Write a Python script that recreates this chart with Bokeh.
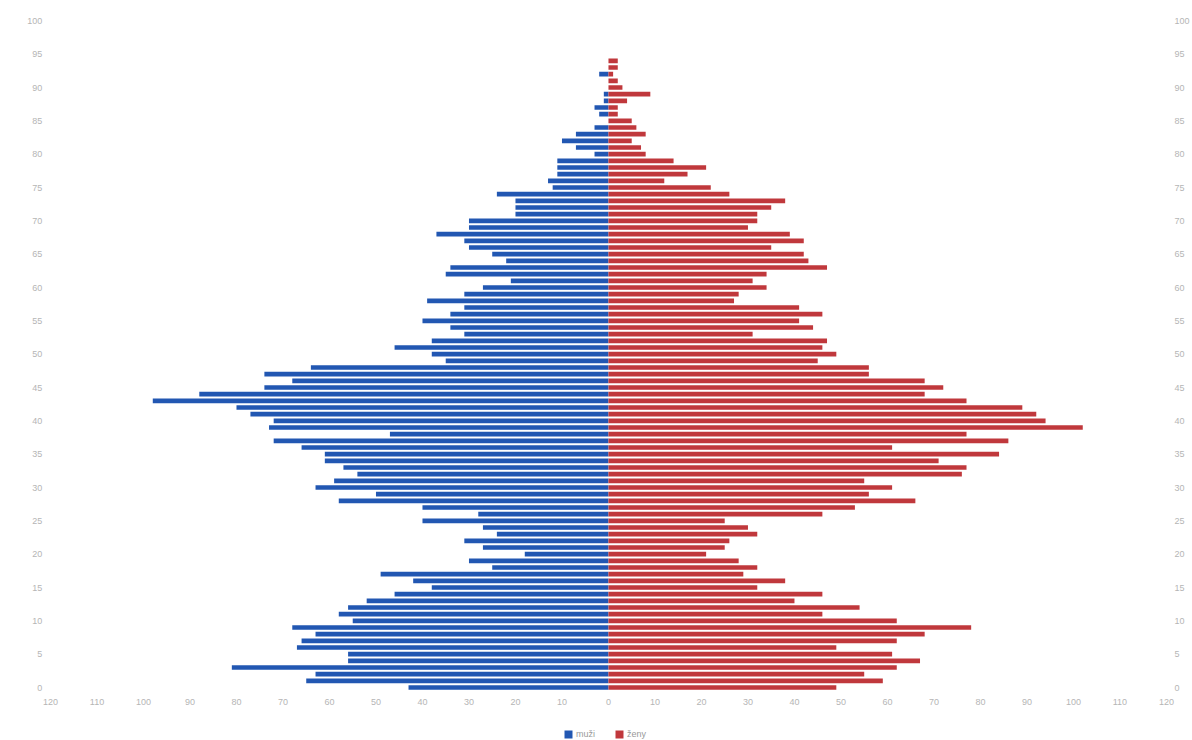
from bokeh.plotting import figure
from bokeh.models import Range1d, FixedTicker, LinearAxis, Legend, LegendItem, ColumnDataSource
from bokeh.embed import file_html
from bokeh.resources import INLINE

# ages 0..94
ages = list(range(0, 95))
muzi = [43, 65, 63, 81, 56, 56, 67, 66, 63, 68,
        55, 58, 56, 52, 46, 38, 42, 49, 25, 30,
        18, 27, 31, 24, 27, 40, 28, 40, 58, 50,
        63, 59, 54, 57, 61, 61, 66, 72, 47, 73,
        72, 77, 80, 98, 88, 74, 68, 74, 64, 35,
        38, 46, 38, 31, 34, 40, 34, 31, 39, 31,
        27, 21, 35, 34, 22, 25, 30, 31, 37, 30,
        30, 20, 20, 20, 24, 12, 13, 11, 11, 11,
        3, 7, 10, 7, 3, 0, 2, 3, 1, 1,
        0, 0, 2, 0, 0]
zeny = [49, 59, 55, 62, 67, 61, 49, 62, 68, 78,
        62, 46, 54, 40, 46, 32, 38, 29, 32, 28,
        21, 25, 26, 32, 30, 25, 46, 53, 66, 56,
        61, 55, 76, 77, 71, 84, 61, 86, 77, 102,
        94, 92, 89, 77, 68, 72, 68, 56, 56, 45,
        49, 46, 47, 31, 44, 41, 46, 41, 27, 28,
        34, 31, 34, 47, 43, 42, 35, 42, 39, 30,
        32, 32, 35, 38, 26, 22, 12, 17, 21, 14,
        8, 7, 5, 8, 6, 5, 2, 2, 4, 9,
        3, 2, 1, 2, 2]

x_ticks = list(range(-120, 121, 10))
x_tick_labels = [str(abs(t)) for t in x_ticks]
age_ticks = list(range(0, 101, 5))
series_names = ["muži", "ženy"]

blue = "#2257b2"
red = "#c0383c"
tick_col = "#b5b5b5"
font = "Liberation Sans"

src = ColumnDataSource(dict(age=ages,
                            m_left=[-v for v in muzi],
                            f_right=zeny,
                            zero=[0] * len(ages)))

p = figure(width=1192, height=740,
           x_range=Range1d(-130.75, 125.6), y_range=Range1d(-7.95, 103.05),
           output_backend="svg", toolbar_location=None,
           x_axis_location=None, y_axis_location=None,
           min_border_left=0, min_border_right=0,
           min_border_top=0, min_border_bottom=0)
p.outline_line_color = None
p.xgrid.visible = False
p.ygrid.visible = False
p.background_fill_color = "white"

rm = p.hbar(y="age", left="m_left", right="zero", height=0.7,
            source=src, fill_color=blue, line_color=None)
rf = p.hbar(y="age", left="zero", right="f_right", height=0.7,
            source=src, fill_color=red, line_color=None)

def style(ax):
    ax.axis_line_color = None
    ax.major_tick_line_color = None
    ax.minor_tick_line_color = None
    ax.major_tick_out = 0
    ax.major_tick_in = 0
    ax.major_label_text_font = font
    ax.major_label_text_font_size = "9px"
    ax.major_label_text_color = tick_col

xa = LinearAxis(ticker=FixedTicker(ticks=x_ticks), fixed_location=-1)
xa.major_label_overrides = {t: l for t, l in zip(x_ticks, x_tick_labels)}
xa.major_label_standoff = 5
style(xa)
p.add_layout(xa, "below")

ly = LinearAxis(ticker=FixedTicker(ticks=age_ticks), fixed_location=-121.1)
ly.major_label_standoff = 3
style(ly)
p.add_layout(ly, "left")

ry = LinearAxis(ticker=FixedTicker(ticks=age_ticks), fixed_location=121.1)
ry.major_label_standoff = 3
style(ry)
p.add_layout(ry, "right")

legend = Legend(items=[LegendItem(label=series_names[0], renderers=[rm]),
                       LegendItem(label=series_names[1], renderers=[rf])],
                location=(563, 1), orientation="horizontal")
legend.glyph_width = 10
legend.glyph_height = 10
legend.label_height = 10
legend.label_text_font = font
legend.label_text_font_size = "9px"
legend.label_text_color = "#999999"
legend.label_standoff = 3
legend.spacing = 18
legend.padding = 0
legend.margin = 0
legend.border_line_color = None
legend.background_fill_alpha = 0
p.add_layout(legend, "center")

open("out.html", "w").write(file_html(p, INLINE))
